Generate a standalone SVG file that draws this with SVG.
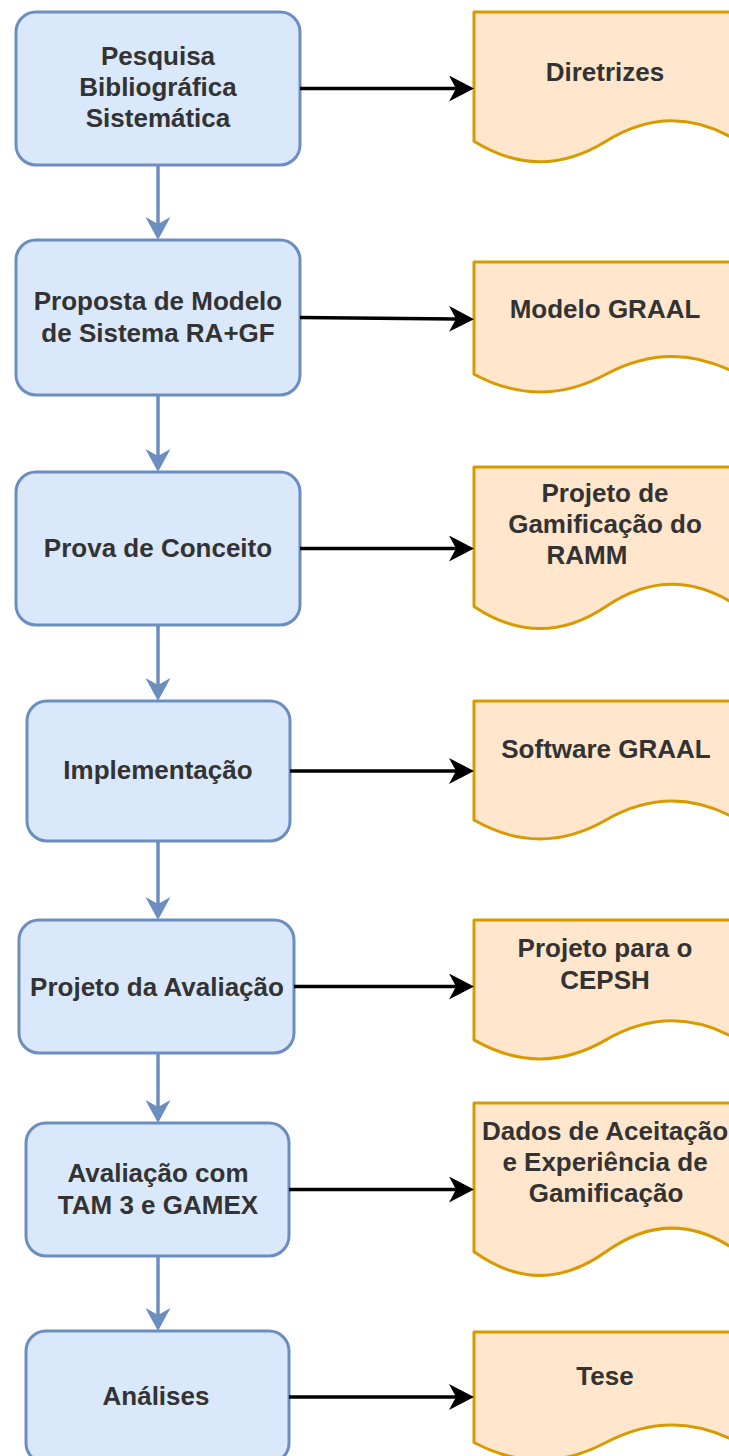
<svg xmlns="http://www.w3.org/2000/svg" width="729" height="1456" viewBox="0 0 729 1456">
  <style>
    .step { fill: #dae8fc; stroke: #6c8ebf; stroke-width: 3; }
    .doc { fill: #ffe6cc; stroke: #d79b00; stroke-width: 3; stroke-linejoin: round; }
    .lbl { font-family: "Liberation Sans", Arial, Helvetica, sans-serif; font-size: 26px; font-weight: bold; fill: #333333; text-anchor: middle; }
    .flow { fill: none; stroke: #6c8ebf; stroke-width: 3.5; marker-end: url(#arrowBlue); }
    .out { fill: none; stroke: #000000; stroke-width: 3.5; marker-end: url(#arrowBlack); }
  </style>
  <defs>
    <marker id="arrowBlue" viewBox="0 0 23 25" markerWidth="23" markerHeight="25" markerUnits="userSpaceOnUse" refX="7" refY="12.5" orient="auto">
      <path d="M0,0 L23,12.5 L0,25 L7,12.5 Z" fill="#6c8ebf"/>
    </marker>
    <marker id="arrowBlack" viewBox="0 0 25 26" markerWidth="25" markerHeight="26" markerUnits="userSpaceOnUse" refX="7" refY="13" orient="auto">
      <path d="M0,0 L25,13 L0,26 L7,13 Z" fill="#000000"/>
    </marker>
  </defs>

  <!-- process steps -->
  <g id="step-pesquisa">
    <rect class="step" x="16" y="12" width="284" height="153" rx="20"/>
    <text class="lbl" x="158" y="65">Pesquisa</text>
    <text class="lbl" x="158" y="96">Bibliográfica</text>
    <text class="lbl" x="158" y="127">Sistemática</text>
  </g>
  <g id="step-proposta">
    <rect class="step" x="16" y="240" width="284" height="155" rx="20"/>
    <text class="lbl" x="158" y="310">Proposta de Modelo</text>
    <text class="lbl" x="158" y="342">de Sistema RA+GF</text>
  </g>
  <g id="step-prova">
    <rect class="step" x="16" y="472" width="284" height="153" rx="20"/>
    <text class="lbl" x="158" y="557">Prova de Conceito</text>
  </g>
  <g id="step-implementacao">
    <rect class="step" x="27" y="701" width="263" height="140" rx="20"/>
    <text class="lbl" x="158" y="779">Implementação</text>
  </g>
  <g id="step-projeto-avaliacao">
    <rect class="step" x="19" y="920" width="275" height="133" rx="20"/>
    <text class="lbl" x="157" y="996">Projeto da Avaliação</text>
  </g>
  <g id="step-avaliacao">
    <rect class="step" x="26" y="1123" width="263" height="133" rx="20"/>
    <text class="lbl" x="158" y="1182">Avaliação com</text>
    <text class="lbl" x="158" y="1214">TAM 3 e GAMEX</text>
  </g>
  <g id="step-analises">
    <rect class="step" x="26" y="1331" width="263" height="132" rx="20"/>
    <text class="lbl" x="156" y="1405">Análises</text>
  </g>

  <!-- output documents -->
  <g id="doc-diretrizes">
    <path class="doc" d="M474,12 L738,12 L738,141.2 Q672,100.2 606,141.2 Q540,182.2 474,141.2 Z"/>
    <text class="lbl" x="605" y="81">Diretrizes</text>
  </g>
  <g id="doc-modelo">
    <path class="doc" d="M474,262 L738,262 L738,374.2 Q672,338.6 606,374.2 Q540,409.8 474,374.2 Z"/>
    <text class="lbl" x="605" y="318">Modelo GRAAL</text>
  </g>
  <g id="doc-gamificacao">
    <path class="doc" d="M474,467 L738,467 L738,606.4 Q672,562.1 606,606.4 Q540,650.7 474,606.4 Z"/>
    <text class="lbl" x="605" y="502">Projeto de</text>
    <text class="lbl" x="605" y="533">Gamificação do</text>
    <text class="lbl" x="587" y="564">RAMM</text>
  </g>
  <g id="doc-software">
    <path class="doc" d="M474,701 L738,701 L738,820 Q672,782.2 606,820 Q540,857.8 474,820 Z"/>
    <text class="lbl" x="606" y="758">Software GRAAL</text>
  </g>
  <g id="doc-cepsh">
    <path class="doc" d="M474,920 L738,920 L738,1039.9 Q672,1001.8 606,1039.9 Q540,1077.9 474,1039.9 Z"/>
    <text class="lbl" x="605" y="957">Projeto para o</text>
    <text class="lbl" x="605" y="989">CEPSH</text>
  </g>
  <g id="doc-dados">
    <path class="doc" d="M474,1103 L738,1103 L738,1251.8 Q672,1204.5 606,1251.8 Q540,1299 474,1251.8 Z"/>
    <text class="lbl" x="605" y="1140">Dados de Aceitação</text>
    <text class="lbl" x="605" y="1171">e Experiência de</text>
    <text class="lbl" x="606" y="1202">Gamificação</text>
  </g>
  <g id="doc-tese">
    <path class="doc" d="M474,1332 L738,1332 L738,1442.5 Q672,1407.4 606,1442.5 Q540,1477.6 474,1442.5 Z"/>
    <text class="lbl" x="605" y="1385">Tese</text>
  </g>

  <!-- connectors -->
  <g id="connectors">
    <line class="flow" x1="158" y1="165" x2="158" y2="224"/>
    <line class="flow" x1="158" y1="395" x2="158" y2="456"/>
    <line class="flow" x1="158" y1="625" x2="158" y2="685"/>
    <line class="flow" x1="158" y1="841" x2="158" y2="904"/>
    <line class="flow" x1="158" y1="1053" x2="158" y2="1107"/>
    <line class="flow" x1="158" y1="1256" x2="158" y2="1315"/>

    <line class="out" x1="300" y1="88.5" x2="456" y2="88.5"/>
    <line class="out" x1="300" y1="317.5" x2="456" y2="319"/>
    <line class="out" x1="300" y1="548.5" x2="456" y2="548.5"/>
    <line class="out" x1="290" y1="771" x2="456" y2="771"/>
    <line class="out" x1="294" y1="986.5" x2="456" y2="986.5"/>
    <line class="out" x1="289" y1="1189.5" x2="456" y2="1189.5"/>
    <line class="out" x1="289" y1="1397" x2="456" y2="1397"/>
  </g>
</svg>
